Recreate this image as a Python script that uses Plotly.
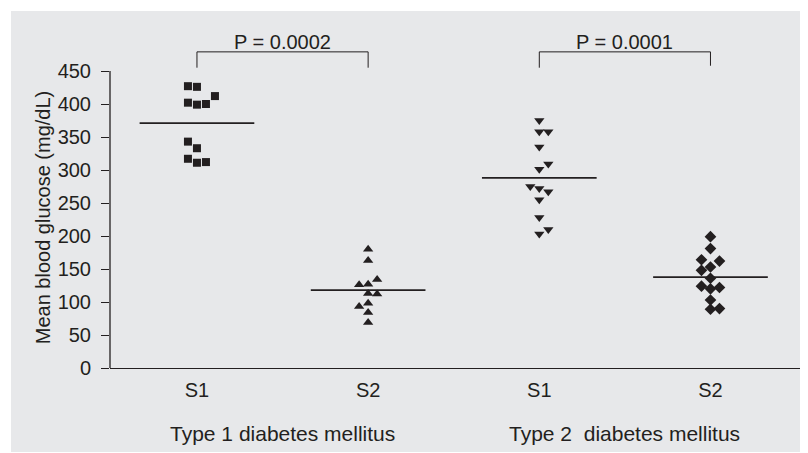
import numpy as np
import plotly.graph_objects as go

# ---- data ----
categories = ["S1", "S2", "S1", "S2"]
group_labels = ["Type 1 diabetes mellitus", "Type 2  diabetes mellitus"]
t1_s1 = [427, 426, 412, 402, 399, 400, 343, 333, 317, 311, 312]
t1_s2 = [180, 163, 134, 126, 127, 113, 112, 98, 93, 84, 69]
t2_s1 = [375, 358, 358, 335, 309, 301, 275, 272, 267, 255, 228, 210, 203]
t2_s2 = [199, 181, 164, 162, 148, 153, 136, 124, 120, 122, 103, 89, 90]
# column-scatter slot of each point (left/centre/right)
t1_s1_slot = [-1, 0, 2, -1, 0, 1, -1, 0, -1, 0, 1]
t1_s2_slot = [0, 0, 1, -1, 0, 0, 1, 0, -1, 0, 0]
t2_s1_slot = [0, 0, 1, 0, 1, 0, -1, 0, 1, 0, 0, 1, 0]
t2_s2_slot = [0, 0, -1, 1, -1, 0, 0, -1, 0, 1, 0, 0, 1]
p_values = ["P = 0.0002", "P = 0.0001"]
y_ticks = [0, 50, 100, 150, 200, 250, 300, 350, 400, 450]

INK = "#231f20"
BG = "#e7e8ea"
FONT = "Liberation Sans, Arial, sans-serif"
STEP = 0.0526
HALF = 0.335

series = [
    (t1_s1, t1_s1_slot, "square", 8),
    (t1_s2, t1_s2_slot, "triangle-up", 9),
    (t2_s1, t2_s1_slot, "triangle-down", 9),
    (t2_s2, t2_s2_slot, "diamond", 9),
]

fig = go.Figure()
for i, (vals, slots, sym, sz) in enumerate(series):
    xs = [i + s * STEP for s in slots]
    fig.add_trace(go.Scatter(
        x=xs, y=vals, mode="markers",
        marker=dict(symbol=sym, size=sz, color=INK, line=dict(width=0)),
        showlegend=False, hoverinfo="y"))
    m = float(np.mean(vals))
    fig.add_trace(go.Scatter(
        x=[i - HALF, i + HALF], y=[m, m], mode="lines",
        line=dict(color=INK, width=1.7), showlegend=False, hoverinfo="skip"))

shapes = [
    # grey panel
    dict(type="rect", xref="paper", yref="paper", x0=-0.1435, x1=1.02,
         y0=-0.2545, y1=1.0818, fillcolor=BG, line=dict(width=0), layer="below"),
    # y axis spine up to 450
    dict(type="line", xref="paper", yref="y", x0=0, x1=0, y0=0, y1=450,
         line=dict(color=INK, width=1.3)),
]
# significance brackets
for (a, b, yl, yr) in [(0, 1, 455, 455), (2, 3, 455, 458)]:
    shapes.append(dict(type="line", xref="x", yref="y", x0=a, x1=a, y0=yl, y1=479,
                       line=dict(color=INK, width=1)))
    shapes.append(dict(type="line", xref="x", yref="y", x0=a, x1=b, y0=479, y1=479,
                       line=dict(color=INK, width=1)))
    shapes.append(dict(type="line", xref="x", yref="y", x0=b, x1=b, y0=yr, y1=479,
                       line=dict(color=INK, width=1)))

annotations = []
for k, txt in enumerate(p_values):
    annotations.append(dict(x=0.5 + 2 * k, y=494, xref="x", yref="y", text=txt,
                            showarrow=False, font=dict(size=20, color=INK, family=FONT)))
for k, txt in enumerate(group_labels):
    annotations.append(dict(x=0.5 + 2 * k, y=-0.197, xref="x", yref="paper", text=txt,
                            showarrow=False, yanchor="middle",
                            font=dict(size=21, color=INK, family=FONT)))
annotations.append(dict(x=-0.0975, y=228, xref="paper", yref="y",
                        text="Mean blood glucose (mg/dL)", textangle=-90,
                        showarrow=False, xanchor="center", yanchor="middle",
                        font=dict(size=20, color=INK, family=FONT)))

fig.update_layout(
    width=800, height=445,
    margin=dict(l=102, r=8, t=30, b=85),
    paper_bgcolor="white", plot_bgcolor="rgba(0,0,0,0)",
    font=dict(family=FONT, color=INK, size=19),
    shapes=shapes, annotations=annotations,
    xaxis=dict(range=[-0.508, 3.523], tickvals=[0, 1, 2, 3], ticktext=categories,
               showgrid=False, zeroline=False, showline=True, linecolor=INK,
               linewidth=1.3, ticks="", ticklabelstandoff=4,
               tickfont=dict(size=20, color=INK)),
    yaxis=dict(range=[0, 500], tickvals=y_ticks, showgrid=False, zeroline=False,
               showline=False, ticks="outside", ticklen=8, tickwidth=1.2,
               tickcolor=INK, ticklabelstandoff=6, tickfont=dict(size=20, color=INK)),
)

fig.write_html("out.html")
